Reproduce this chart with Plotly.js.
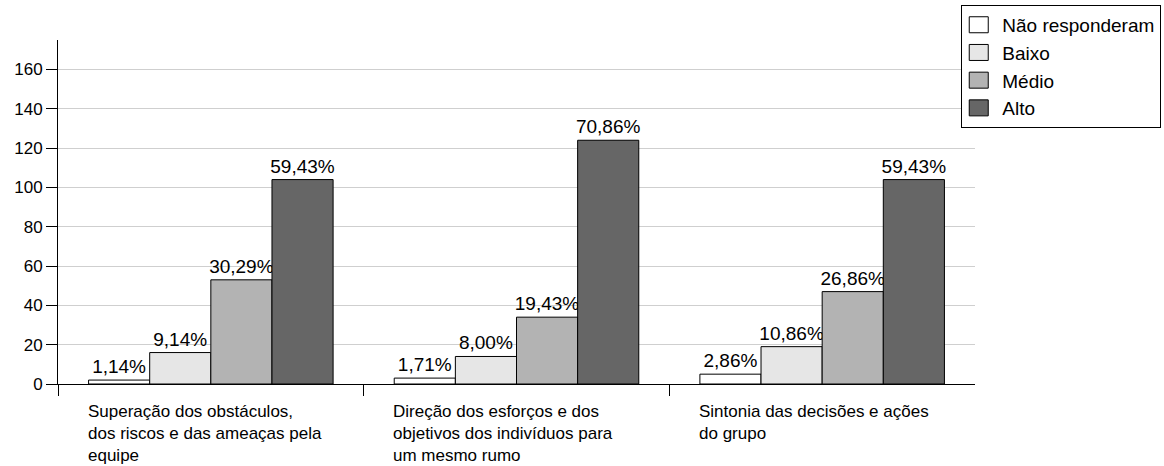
<!DOCTYPE html>
<html>
<head>
<meta charset="utf-8">
<script src="https://cdn.plot.ly/plotly-3.0.1.min.js"></script>
<style>
  html, body { margin: 0; padding: 0; background: #fff; }
  #chart { width: 1164px; height: 466px; }
</style>
</head>
<body>
<div id="chart"></div>
<script>
// Respondent counts per dimension (175 respondents in total)
const categories = [
  'Superação dos obstáculos,<br>dos riscos e das ameaças pela<br>equipe',
  'Direção dos esforços e dos<br>objetivos dos indivíduos para<br>um mesmo rumo',
  'Sintonia das decisões e ações<br>do grupo'
];
const seriesNames = ['Não responderam', 'Baixo', 'Médio', 'Alto'];
const naoResponderam = [2, 3, 5];
const baixo = [16, 14, 19];
const medio = [53, 34, 47];
const alto = [104, 124, 104];
const yTicks = [0, 20, 40, 60, 80, 100, 120, 140, 160];

const seriesValues = [naoResponderam, baixo, medio, alto];
const fills = ['#ffffff', '#e6e6e6', '#b3b3b3', '#666666'];
const FONT = 'Liberation Sans, Arial, sans-serif';

// Totals per category, used to turn counts into percentage labels
const totals = categories.map((_, i) =>
  seriesValues.reduce((s, arr) => s + arr[i], 0));

const pct = (v, t) => (v / t * 100).toFixed(2).replace('.', ',') + '%';

const xIdx = categories.map((_, i) => i);

const traces = seriesValues.map((vals, k) => ({
  type: 'bar',
  name: seriesNames[k],
  legendgroup: 'g' + k,
  x: xIdx,
  y: vals,
  text: vals.map((v, i) => pct(v, totals[i])),
  textposition: 'outside',
  constraintext: 'none',
  cliponaxis: false,
  textfont: { family: FONT, size: 19, color: '#000' },
  marker: { color: fills[k], line: { color: '#000', width: 1 } },
  hoverinfo: 'none'
}));

// Category captions, left-aligned under each bar group
const captions = categories.map((c, i) => ({
  xref: 'x', yref: 'paper',
  x: i - 0.4, y: 0,
  xanchor: 'left', yanchor: 'top',
  xshift: -3, yshift: -16,
  align: 'left',
  showarrow: false,
  text: c,
  font: { family: FONT, size: 17, color: '#000' }
}));

const layout = {
  width: 1164, height: 466,
  margin: { l: 58, r: 189, t: 40, b: 82, pad: 0, autoexpand: false },
  paper_bgcolor: '#fff', plot_bgcolor: '#fff',
  barmode: 'group',
  bargap: 0.2, bargroupgap: 0,
  font: { family: FONT, size: 17, color: '#000' },
  showlegend: true,
  legend: {
    x: 0.985, y: 1.102, xanchor: 'left', yanchor: 'top',
    bgcolor: '#fff', bordercolor: '#000', borderwidth: 1,
    font: { family: FONT, size: 19, color: '#000' },
    tracegroupgap: 5,
    traceorder: 'normal'
  },
  xaxis: {
    type: 'linear',
    range: [-0.5, 2.5],
    tickmode: 'array',
    tickvals: [-0.5, 0.5, 1.5],
    ticktext: ['', '', ''],
    ticks: 'outside', ticklen: 11, tickwidth: 1, tickcolor: '#000',
    showline: true, linecolor: '#000', linewidth: 1,
    showgrid: false, zeroline: false, fixedrange: true
  },
  yaxis: {
    range: [0, 175],
    tickmode: 'array',
    tickvals: yTicks,
    ticktext: yTicks.map(String),
    ticks: 'outside', ticklen: 11, tickwidth: 1, tickcolor: '#000',
    tickfont: { family: FONT, size: 17, color: '#000' },
    showline: true, linecolor: '#000', linewidth: 1,
    showgrid: true, gridcolor: '#cfcfcf', gridwidth: 1,
    zeroline: false, fixedrange: true
  },
  annotations: captions
};

// Larger legend swatches than Plotly's default 12px squares
function enlargeSwatches() {
  document.querySelectorAll('#chart .legend .legendpoints path').forEach(p => {
    p.setAttribute('d', 'M6,8H-13V-8H6Z');
  });
}

Plotly.newPlot('chart', traces, layout, { staticPlot: true, displayModeBar: false })
  .then(enlargeSwatches);
</script>
</body>
</html>
